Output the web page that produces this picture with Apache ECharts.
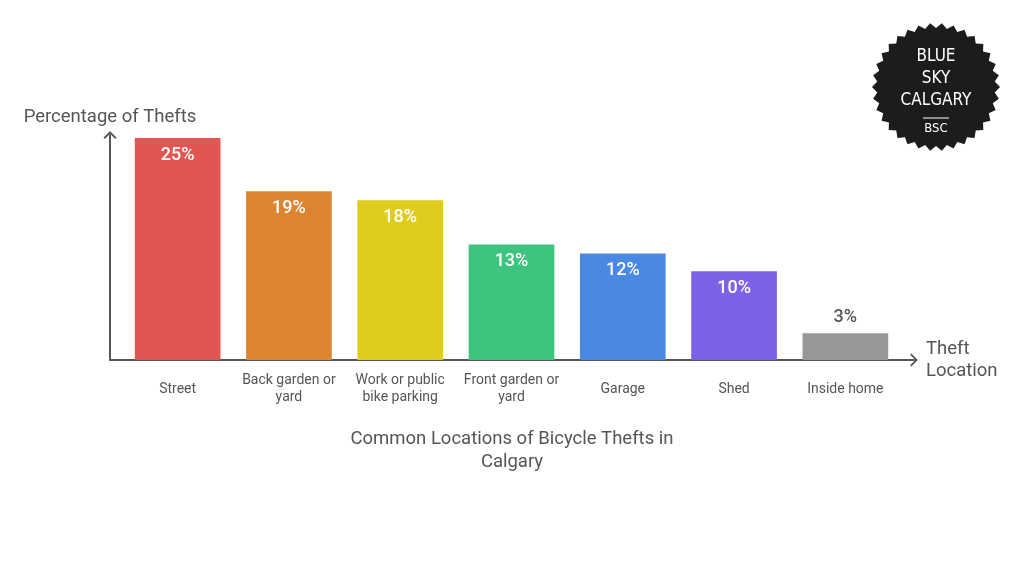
<!DOCTYPE html>
<html>
<head>
<meta charset="utf-8">
<script src="https://cdn.jsdelivr.net/npm/echarts@6/dist/echarts.min.js"></script>
<style>html,body{margin:0;padding:0;background:#fff}#c{width:1024px;height:576px}</style>
</head>
<body>
<div id="c"></div>
<script>
const categories = ['Street', 'Back garden or\nyard', 'Work or public\nbike parking', 'Front garden or\nyard', 'Garage', 'Shed', 'Inside home'];
const values = [25, 19, 18, 13, 12, 10, 3];
const barColors = ['#e25652', '#dd8431', '#dfcc1c', '#3dc47e', '#4b88e3', '#7c63e6', '#979797'];
const chartTitle = 'Common Locations of Bicycle Thefts in\nCalgary';
const yName = 'Percentage of Thefts';
const xName = 'Theft\nLocation';

const chart = echarts.init(document.getElementById('c'));
const FONT = 'Roboto';
const AXIS = '#555555';
const chevron = 'path://M0,10 L10,0 L20,10 L18,12 L10,4 L2,12 Z';

// logo badge
const cx = 936, cy = 87, N = 34, Ro = 64, Ri = 59;
const pts = [];
for (let i = 0; i < N * 2; i++) {
  const a = Math.PI * i / N;
  const r = i % 2 === 0 ? Ro : Ri;
  pts.push([cx + r * Math.cos(a), cy + r * Math.sin(a)]);
}
const logoFont = '"DejaVu Sans Condensed", "DejaVu Sans", sans-serif';

chart.setOption({
  backgroundColor: '#ffffff',
  animation: false,
  grid: [
    { left: 122, right: 123, top: 138, bottom: 216 },
    { left: 110, right: 110, top: 135, bottom: 216 }
  ],
  xAxis: [
    {
      type: 'category', gridIndex: 0, data: categories,
      axisLine: { show: false }, axisTick: { show: false },
      axisLabel: { fontFamily: FONT, fontSize: 14, color: AXIS, lineHeight: 17, margin: 29, verticalAlign: 'middle', interval: 0 }
    },
    {
      type: 'value', gridIndex: 1, min: 0, max: 1,
      axisLine: { show: true, lineStyle: { color: AXIS, width: 2 }, symbol: ['none', chevron], symbolSize: [13, 8] },
      axisTick: { show: false }, axisLabel: { show: false }, splitLine: { show: false },
      name: xName, nameLocation: 'end', nameGap: 12,
      nameTextStyle: { fontFamily: FONT, fontSize: 18.5, color: AXIS, lineHeight: 22, align: 'left', verticalAlign: 'middle' }
    }
  ],
  yAxis: [
    { type: 'value', gridIndex: 0, min: 0, max: 25, show: false },
    {
      type: 'value', gridIndex: 1, min: 0, max: 1,
      axisLine: { show: true, lineStyle: { color: AXIS, width: 2 }, symbol: ['none', chevron], symbolSize: [13, 8] },
      axisTick: { show: false }, axisLabel: { show: false }, splitLine: { show: false },
      name: yName, nameLocation: 'end', nameGap: 8,
      nameTextStyle: { fontFamily: FONT, fontSize: 18.5, color: AXIS, align: 'center' }
    }
  ],
  series: [{
    type: 'bar', xAxisIndex: 0, yAxisIndex: 0,
    barWidth: '77%',
    data: values.map((v, i) => ({
      value: v,
      itemStyle: { color: barColors[i] },
      label: v < 5
        ? { position: 'top', color: AXIS, distance: 7 }
        : { position: 'insideTop', color: '#ffffff', distance: 8 }
    })),
    label: { show: true, formatter: '{c}%', fontFamily: FONT, fontSize: 18, fontWeight: 500 }
  }],
  graphic: [
    { type: 'text', x: 512, y: 428, style: { text: chartTitle, fill: AXIS, font: '18.5px Roboto', align: 'center', verticalAlign: 'top', lineHeight: 23 } },
    { type: 'polygon', shape: { points: pts }, style: { fill: '#1c1c1c' } },
    { type: 'text', x: cx, y: 57, style: { text: 'BLUE', fill: '#fff', font: '17px ' + logoFont, align: 'center', verticalAlign: 'middle' } },
    { type: 'text', x: cx, y: 79, style: { text: 'SKY', fill: '#fff', font: '17px ' + logoFont, align: 'center', verticalAlign: 'middle' } },
    { type: 'text', x: cx, y: 101, style: { text: 'CALGARY', fill: '#fff', font: '17px ' + logoFont, align: 'center', verticalAlign: 'middle' } },
    { type: 'line', shape: { x1: cx - 13, y1: 118, x2: cx + 13, y2: 118 }, style: { stroke: '#fff', lineWidth: 1 } },
    { type: 'text', x: cx, y: 129, style: { text: 'BSC', fill: '#fff', font: '13px ' + logoFont, align: 'center', verticalAlign: 'middle' } }
  ]
});
</script>
</body>
</html>
